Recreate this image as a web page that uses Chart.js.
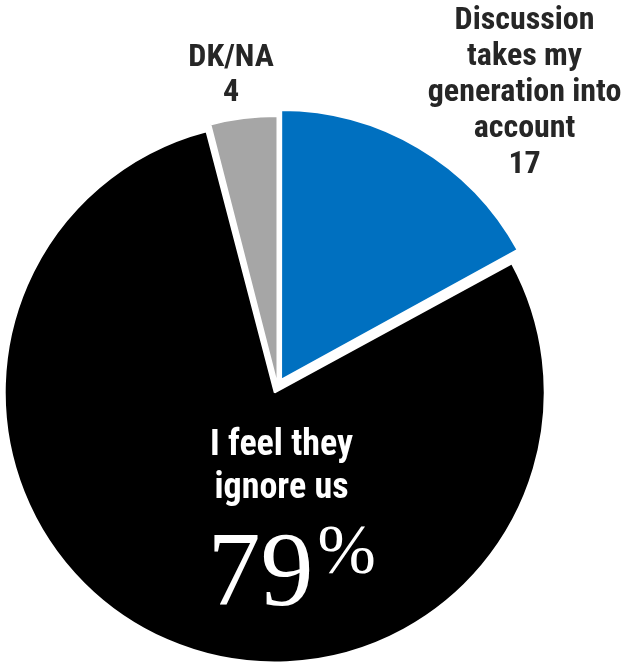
<!DOCTYPE html>
<html>
<head>
<meta charset="utf-8">
<script src="https://cdn.jsdelivr.net/npm/chart.js@4/dist/chart.umd.min.js"></script>
<style>
html,body{margin:0;padding:0;background:#fff;}
#wrap{width:624px;height:664px;position:relative;}
</style>
</head>
<body>
<div id="wrap"><canvas id="c" width="624" height="664"></canvas></div>
<script>
const categories = ["Discussion takes my generation into account", "I feel they ignore us", "DK/NA"];
const values = [17, 79, 4];
const colors = ["#0070C0", "#000000", "#A6A6A6"];
const outsideLabels = [["Discussion", "takes my", "generation into", "account"], null, ["DK/NA"]];
const insideLabel = ["I feel they", "ignore us"];

const NARROW = '"Liberation Sans Narrow", "Arial Narrow", "Roboto Condensed", "DejaVu Sans Condensed", sans-serif';
const SERIF = '"Liberation Serif", "Times New Roman", "DejaVu Serif", serif';

const PIE_RADIUS = 270;
const SLICE_OFFSETS = [28, 28, 0]; // Chart.js translates each arc by offset/4

// Keep every slice at the same radius after Chart.js' offset translation
const radiusFix = {
  id: 'radiusFix',
  beforeDatasetsDraw(chart) {
    const meta = chart.getDatasetMeta(0);
    meta.data.forEach(arc => {
      const circ = arc.endAngle - arc.startAngle;
      const fix = 1 - Math.sin(Math.min(Math.PI, circ));
      const off = (arc.options && arc.options.offset) || 0;
      arc.outerRadius = PIE_RADIUS - (off / 4) * fix;
    });
  }
};

const labelPlugin = {
  id: 'labels',
  afterDatasetsDraw(chart) {
    const ctx = chart.ctx;
    const cx = (chart.chartArea.left + chart.chartArea.right) / 2;
    const cy = (chart.chartArea.top + chart.chartArea.bottom) / 2;
    const R = PIE_RADIUS;
    ctx.save();
    ctx.fillStyle = '#262626';
    ctx.textAlign = 'center';
    ctx.textBaseline = 'alphabetic';
    ctx.font = 'bold 32px ' + NARROW;
    // blue slice label
    const lx0 = cx + R * 0.915;
    const lines0 = outsideLabels[0].concat([String(values[0])]);
    const y0 = cy - R * 1.322;
    lines0.forEach((t, i) => ctx.fillText(t, lx0, y0 + i * 36));
    // gray slice label
    const lx2 = cx - R * 0.172;
    const lines2 = outsideLabels[2].concat([String(values[2])]);
    const y2 = cy - R * 1.185;
    lines2.forEach((t, i) => ctx.fillText(t, lx2, y2 + i * 35));
    // black slice label
    ctx.fillStyle = '#ffffff';
    ctx.font = 'bold 36px ' + NARROW;
    const ix = cx + 4;
    insideLabel.forEach((t, i) => ctx.fillText(t, ix, cy + 69 + i * 43));
    ctx.font = '106px ' + SERIF;
    ctx.textAlign = 'right';
    ctx.fillText(String(values[1]), cx + 36, cy + 219);
    ctx.font = '70px ' + SERIF;
    ctx.textAlign = 'left';
    ctx.fillText('%', cx + 40, cy + 187);
    ctx.restore();
  }
};

new Chart(document.getElementById('c'), {
  type: 'pie',
  data: {
    labels: categories,
    datasets: [{
      data: values,
      backgroundColor: colors,
      borderColor: '#ffffff',
      borderWidth: 2,
      offset: SLICE_OFFSETS,
      hoverOffset: 0
    }]
  },
  options: {
    responsive: false,
    animation: false,
    radius: PIE_RADIUS,
    layout: { padding: { left: 0, right: 69, top: 108, bottom: 0 } },
    plugins: {
      legend: { display: false },
      tooltip: { enabled: false }
    }
  },
  plugins: [radiusFix, labelPlugin]
});
</script>
</body>
</html>
